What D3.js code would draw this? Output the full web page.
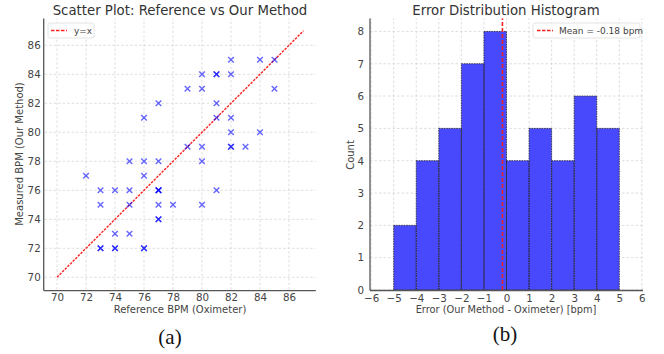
<!DOCTYPE html>
<html><head><meta charset="utf-8">
<script src="https://cdn.jsdelivr.net/npm/d3@7"></script>
<style>body{margin:0;background:#fff}svg{display:block}</style>
</head><body>
<svg id="c" width="664" height="354"></svg>
<script>
// Scatter data: reference BPM (oximeter) and measured BPM (our method)
const refBPM = [80,81,81,82,82,84,85,85,79,80,77,81,76,81,82,82,84,79,80,82,82,83,75,76,77,80,72,76,73,74,75,77,77,81,73,75,77,78,80,77,77,74,75,73,73,74,74,76,76,77];
const measBPM = [84,84,84,84,85,85,85,83,83,83,82,82,81,81,81,80,80,79,79,79,79,79,78,78,78,78,77,77,76,76,76,76,76,76,75,75,75,75,75,74,74,73,73,72,72,72,72,72,72,76];
// Histogram of errors
const binStarts = [-5,-4,-3,-2,-1,0,1,2,3,4];
const binCounts = [2,4,5,7,8,4,5,4,6,5];
const meanError = -0.18;
const scatterTicks = [70,72,74,76,78,80,82,84,86];
const histXTicks = [-6,-5,-4,-3,-2,-1,0,1,2,3,4,5,6];
const histYTicks = [0,1,2,3,4,5,6,7,8];

const svg = d3.select("#c");
const FONT = "DejaVu Sans, sans-serif";
const txtCol = "#444";

function styleAxis(g){
  g.selectAll(".domain").remove();
  g.selectAll(".tick line").remove();
  g.selectAll(".tick text").attr("fill", txtCol).style("font-family", FONT).style("font-size","10.3px");
}

// ---------- Scatter ----------
const sx = d3.scaleLinear().domain([69.15, 87.85]).range([44.7, 315.8]);
const sy = d3.scaleLinear().domain([69.15, 87.85]).range([289.6, 18.5]);
const g1 = svg.append("g");
g1.selectAll(".gx").data(scatterTicks).join("line")
  .attr("x1", d=>sx(d)).attr("x2", d=>sx(d)).attr("y1", sy.range()[0]).attr("y2", sy.range()[1])
  .attr("stroke","#d0d0d0").attr("stroke-width",0.7).attr("stroke-dasharray","2.5,2");
g1.selectAll(".gy").data(scatterTicks).join("line")
  .attr("y1", d=>sy(d)).attr("y2", d=>sy(d)).attr("x1", sx.range()[0]).attr("x2", sx.range()[1])
  .attr("stroke","#d0d0d0").attr("stroke-width",0.7).attr("stroke-dasharray","2.5,2");
g1.append("line").attr("x1", sx(70)).attr("y1", sy(70)).attr("x2", sx(87)).attr("y2", sy(87))
  .attr("stroke","#ff2020").attr("stroke-width",1.4).attr("stroke-dasharray","2.5,1.2");
const pts = refBPM.map((r,i)=>[r, measBPM[i]]);
const ms = 2.8;
g1.selectAll(".pt").data(pts).join("path")
  .attr("d", d=>{const x=sx(d[0]), y=sy(d[1]);
    return `M${x-ms},${y-ms}L${x+ms},${y+ms}M${x-ms},${y+ms}L${x+ms},${y-ms}`;})
  .attr("stroke","blue").attr("stroke-opacity",0.6).attr("stroke-width",1.4).attr("fill","none");
g1.append("g").attr("transform",`translate(0,${sy.range()[0]})`)
  .call(d3.axisBottom(sx).tickValues(scatterTicks).tickSize(0).tickPadding(4)).call(styleAxis);
g1.append("g").attr("transform",`translate(${sx.range()[0]-1},0)`)
  .call(d3.axisLeft(sy).tickValues(scatterTicks).tickSize(0).tickPadding(3)).call(styleAxis);
g1.append("line").attr("x1", sx.range()[0]-1).attr("x2", sx.range()[0]-1).attr("y1", sy.range()[1]).attr("y2", sy.range()[0]+1).attr("stroke","#555").attr("stroke-width",1.3);
g1.append("line").attr("x1", sx.range()[0]-1).attr("x2", sx.range()[1]).attr("y1", sy.range()[0]+1).attr("y2", sy.range()[0]+1).attr("stroke","#555").attr("stroke-width",1.3);
g1.append("text").attr("x",180).attr("y",15).attr("text-anchor","middle").attr("fill","#333")
  .style("font-family",FONT).style("font-size","13.3px").text("Scatter Plot: Reference vs Our Method");
g1.append("text").attr("x",180).attr("y",313).attr("text-anchor","middle").attr("fill",txtCol)
  .style("font-family",FONT).style("font-size","10px").text("Reference BPM (Oximeter)");
g1.append("text").attr("transform","translate(23,154) rotate(-90)").attr("text-anchor","middle").attr("fill",txtCol)
  .style("font-family",FONT).style("font-size","10px").text("Measured BPM (Our Method)");
g1.append("rect").attr("x",48).attr("y",23).attr("width",46).attr("height",15).attr("rx",2)
  .attr("fill","#fff").attr("fill-opacity",0.85).attr("stroke","#ddd").attr("stroke-width",0.8);
g1.append("line").attr("x1",51).attr("x2",67).attr("y1",30.5).attr("y2",30.5)
  .attr("stroke","#ff2020").attr("stroke-width",1.4).attr("stroke-dasharray","3.5,1.5");
g1.append("text").attr("x",74).attr("y",33.5).attr("fill",txtCol).style("font-family",FONT).style("font-size","9px").text("y=x");
g1.append("text").attr("x",170).attr("y",344).attr("text-anchor","middle").attr("fill","#111")
  .style("font-family","Liberation Serif, serif").style("font-size","21px").text("(a)");

// ---------- Histogram ----------
const hx = d3.scaleLinear().domain([-6.05, 6.05]).range([370, 643]);
const hy = d3.scaleLinear().domain([0, 8.4]).range([290, 18.5]);
const g2 = svg.append("g");
g2.selectAll(".gx").data(histXTicks).join("line")
  .attr("x1", d=>hx(d)).attr("x2", d=>hx(d)).attr("y1", hy.range()[0]).attr("y2", hy.range()[1])
  .attr("stroke","#d0d0d0").attr("stroke-width",0.7).attr("stroke-dasharray","2.5,2");
g2.selectAll(".gy").data(histYTicks).join("line")
  .attr("y1", d=>hy(d)).attr("y2", d=>hy(d)).attr("x1", hx.range()[0]).attr("x2", hx.range()[1])
  .attr("stroke","#d0d0d0").attr("stroke-width",0.7).attr("stroke-dasharray","2.5,2");
g2.selectAll(".bar").data(binStarts).join("rect")
  .attr("x", d=>hx(d)).attr("width", d=>hx(d+1)-hx(d))
  .attr("y", (d,i)=>hy(binCounts[i])).attr("height",(d,i)=>hy(0)-hy(binCounts[i]))
  .attr("fill","rgb(72,72,252)");
g2.selectAll(".edge").data(binStarts).join("rect")
  .attr("x", d=>hx(d)).attr("width", d=>hx(d+1)-hx(d))
  .attr("y", (d,i)=>hy(binCounts[i])).attr("height",(d,i)=>hy(0)-hy(binCounts[i]))
  .attr("fill","none").attr("stroke","#222").attr("stroke-width",0.8).attr("stroke-dasharray","1.5,1");
g2.append("line").attr("x1", hx(meanError)).attr("x2", hx(meanError)).attr("y1", hy.range()[0]).attr("y2", hy.range()[1])
  .attr("stroke","#ee2222").attr("stroke-width",1.6).attr("stroke-dasharray","4,2");
g2.append("g").attr("transform",`translate(0,${hy.range()[0]})`)
  .call(d3.axisBottom(hx).tickValues(histXTicks).tickSize(0).tickPadding(5)).call(styleAxis);
g2.append("g").attr("transform",`translate(${hx.range()[0]},0)`)
  .call(d3.axisLeft(hy).tickValues(histYTicks).tickSize(0).tickPadding(6)).call(styleAxis);
g2.append("line").attr("x1", hx.range()[0]).attr("x2", hx.range()[0]).attr("y1", hy.range()[1]).attr("y2", hy.range()[0]+0.5).attr("stroke","#555").attr("stroke-width",1.3);
g2.append("line").attr("x1", hx.range()[0]).attr("x2", hx.range()[1]).attr("y1", hy.range()[0]+0.5).attr("y2", hy.range()[0]+0.5).attr("stroke","#555").attr("stroke-width",1.3);
g2.append("text").attr("x",506).attr("y",15).attr("text-anchor","middle").attr("fill","#333")
  .style("font-family",FONT).style("font-size","13.3px").text("Error Distribution Histogram");
g2.append("text").attr("x",506).attr("y",313).attr("text-anchor","middle").attr("fill",txtCol)
  .style("font-family",FONT).style("font-size","9.8px").text("Error (Our Method - Oximeter) [bpm]");
g2.append("text").attr("transform","translate(354,155) rotate(-90)").attr("text-anchor","middle").attr("fill",txtCol)
  .style("font-family",FONT).style("font-size","10px").text("Count");
g2.append("rect").attr("x",533).attr("y",23).attr("width",107).attr("height",15).attr("rx",2)
  .attr("fill","#fff").attr("fill-opacity",0.85).attr("stroke","#ddd").attr("stroke-width",0.8);
g2.append("line").attr("x1",537).attr("x2",553).attr("y1",30.5).attr("y2",30.5)
  .attr("stroke","#ee2222").attr("stroke-width",1.4).attr("stroke-dasharray","3.5,1.5");
g2.append("text").attr("x",559).attr("y",33.5).attr("fill",txtCol).style("font-family",FONT).style("font-size","9px").text("Mean = -0.18 bpm");
g2.append("text").attr("x",505).attr("y",341).attr("text-anchor","middle").attr("fill","#111")
  .style("font-family","Liberation Serif, serif").style("font-size","21px").text("(b)");
</script>
</body></html>
